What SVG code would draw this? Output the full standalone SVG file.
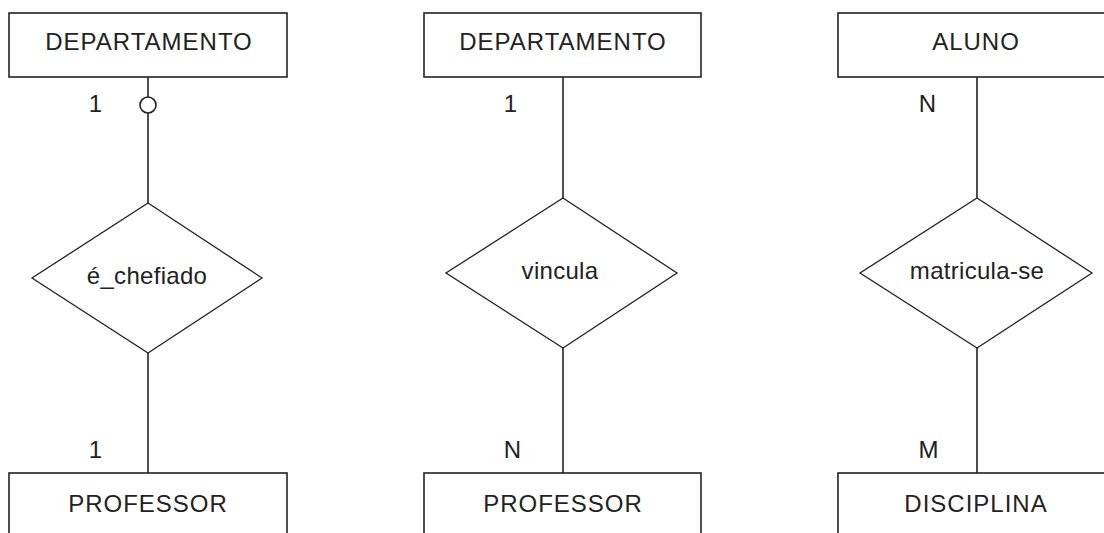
<svg xmlns="http://www.w3.org/2000/svg" width="1104" height="533" viewBox="0 0 1104 533">
  <style>
    .ent { fill: #ffffff; stroke: #222222; stroke-width: 1.6; }
    .rel { fill: #ffffff; stroke: #222222; stroke-width: 1.3; }
    .edge { fill: none; stroke: #222222; stroke-width: 1.6; }
    .opt { fill: #ffffff; stroke: #222222; stroke-width: 1.6; }
    text { font-family: "Liberation Sans", Arial, sans-serif; font-size: 24px; fill: #222222; text-anchor: middle; letter-spacing: 1px; }
    text.verb { letter-spacing: 0.3px; }
  </style>
  <rect width="1104" height="533" fill="#ffffff"/>

  <!-- connectors with cardinality labels -->
  <g id="connectors">
    <line class="edge" x1="148" y1="77" x2="148" y2="203"/>
    <circle class="opt" cx="148" cy="105" r="8"/>
    <line class="edge" x1="148" y1="353" x2="148" y2="473"/>
    <line class="edge" x1="563" y1="77" x2="563" y2="198"/>
    <line class="edge" x1="563" y1="348" x2="563" y2="473"/>
    <line class="edge" x1="977" y1="77" x2="977" y2="198"/>
    <line class="edge" x1="977" y1="348" x2="977" y2="473"/>
    <text x="96" y="112">1</text>
    <text x="96" y="458">1</text>
    <text x="511" y="112">1</text>
    <text x="513" y="458">N</text>
    <text x="928" y="112">N</text>
    <text x="929" y="458">M</text>
  </g>

  <!-- first model -->
  <g id="departamento-1">
    <rect class="ent" x="9" y="13" width="278" height="64"/>
    <text x="149" y="50">DEPARTAMENTO</text>
  </g>
  <g id="e_chefiado">
    <polygon class="rel" points="148,203 262,278 148,353 32,278"/>
    <text class="verb" x="147" y="284">é_chefiado</text>
  </g>
  <g id="professor-1">
    <rect class="ent" x="9" y="473" width="278" height="80"/>
    <text x="148" y="512">PROFESSOR</text>
  </g>

  <!-- second model -->
  <g id="departamento-2">
    <rect class="ent" x="424" y="13" width="277" height="64"/>
    <text x="563" y="50">DEPARTAMENTO</text>
  </g>
  <g id="vincula">
    <polygon class="rel" points="563,198 677,273 563,348 446,273"/>
    <text class="verb" x="560" y="279">vincula</text>
  </g>
  <g id="professor-2">
    <rect class="ent" x="424" y="473" width="277" height="80"/>
    <text x="563" y="512">PROFESSOR</text>
  </g>

  <!-- third model -->
  <g id="aluno">
    <rect class="ent" x="838" y="13" width="277" height="64"/>
    <text x="976" y="50">ALUNO</text>
  </g>
  <g id="matricula-se">
    <polygon class="rel" points="977,198 1092,273 977,348 860,273"/>
    <text class="verb" x="977" y="279">matricula-se</text>
  </g>
  <g id="disciplina">
    <rect class="ent" x="838" y="473" width="277" height="80"/>
    <text x="976" y="512">DISCIPLINA</text>
  </g>
</svg>
